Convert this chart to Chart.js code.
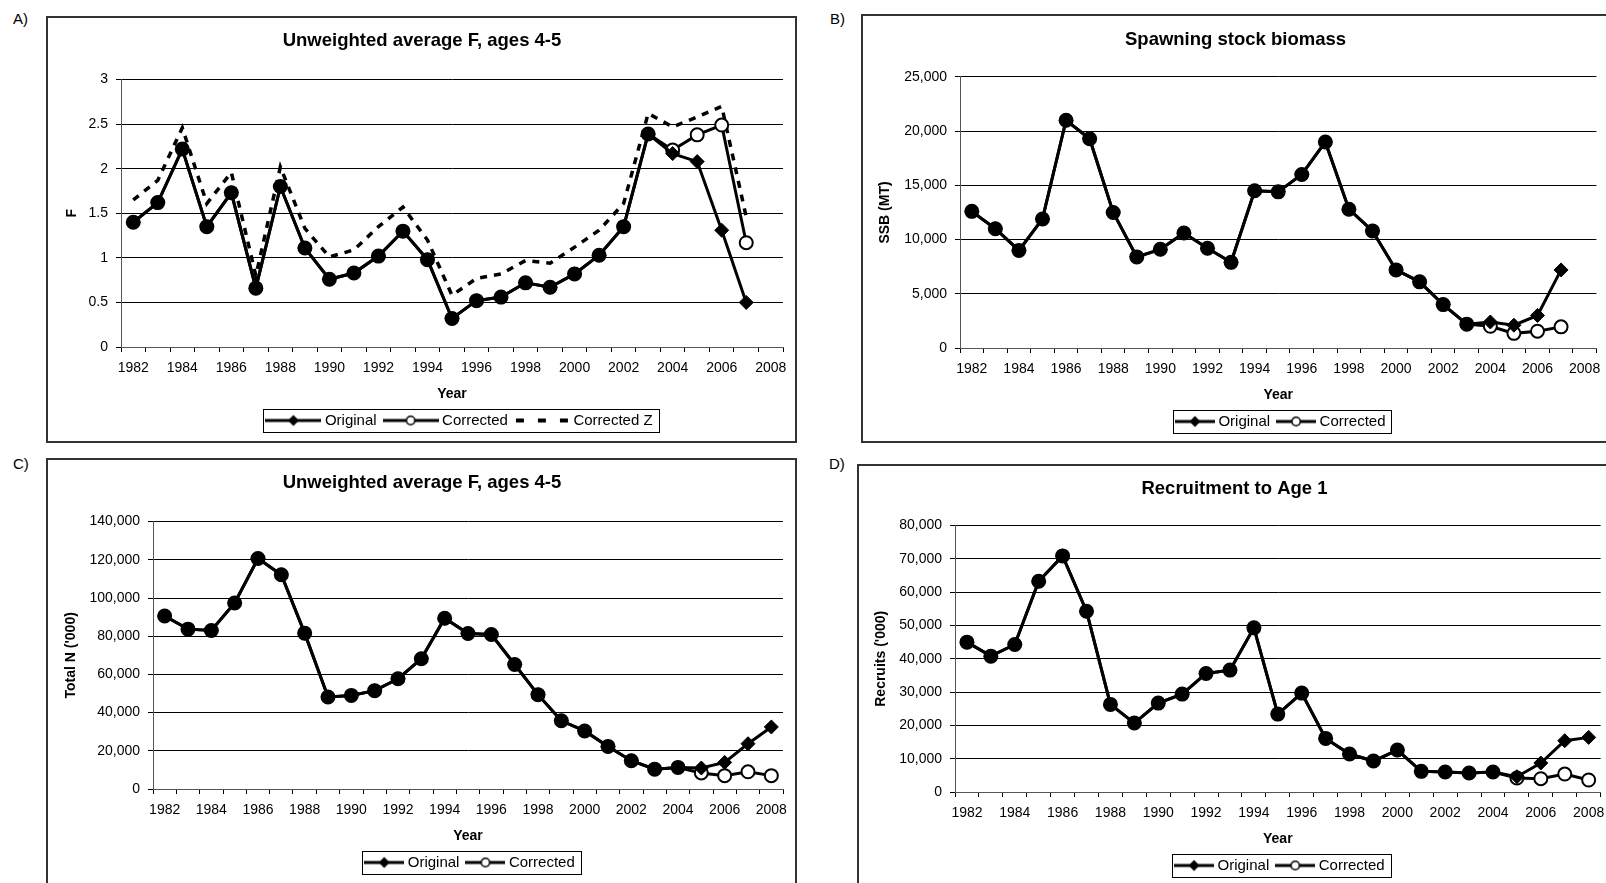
<!DOCTYPE html>
<html><head><meta charset="utf-8">
<script src="https://cdn.jsdelivr.net/npm/chart.js@4.4.0/dist/chart.umd.min.js"></script>
<style>
html,body{margin:0;padding:0;background:#fff;width:1606px;height:883px;overflow:hidden;position:relative;font-family:'Liberation Sans',Arial,sans-serif;}
.box{position:absolute;border:2px solid #333;box-sizing:border-box;}
.lab{position:absolute;font-size:15px;line-height:17px;color:#000;}
canvas{position:absolute;}
</style></head><body>
<div class="box" style="left:46px;top:16px;width:751px;height:427px"></div>
<div class="box" style="left:861px;top:14px;width:800px;height:429px"></div>
<div class="box" style="left:46px;top:458px;width:751px;height:500px"></div>
<div class="box" style="left:857px;top:464px;width:800px;height:500px"></div>
<div class="lab" style="left:13px;top:10px">A)</div>
<div class="lab" style="left:830px;top:10px">B)</div>
<div class="lab" style="left:13px;top:455px">C)</div>
<div class="lab" style="left:829px;top:455px">D)</div>
<canvas id="cA" width="749" height="425" style="left:47px;top:17px"></canvas>
<canvas id="cB" width="746" height="427" style="left:862px;top:15px"></canvas>
<canvas id="cC" width="749" height="424" style="left:47px;top:459px"></canvas>
<canvas id="cD" width="754" height="418" style="left:858px;top:465px"></canvas>
<script>
const years = ['1982','1983','1984','1985','1986','1987','1988','1989','1990','1991','1992','1993','1994','1995','1996','1997','1998','1999','2000','2001','2002','2003','2004','2005','2006','2007','2008'];

// A) Unweighted average F, ages 4-5
const fOriginal   = [1.40,1.62,2.22,1.35,1.73,0.66,1.80,1.11,0.76,0.83,1.02,1.30,0.98,0.32,0.52,0.56,0.72,0.67,0.82,1.03,1.35,2.39,2.17,2.08,1.31,0.50,null];
const fCorrected  = [1.40,1.62,2.22,1.35,1.73,0.66,1.80,1.11,0.76,0.83,1.02,1.30,0.98,0.32,0.52,0.56,0.72,0.67,0.82,1.03,1.35,2.39,2.21,2.38,2.49,1.17,null];
const fCorrectedZ = [1.65,1.87,2.46,1.61,1.96,0.80,2.02,1.33,1.01,1.09,1.35,1.57,1.20,0.58,0.77,0.82,0.97,0.94,1.12,1.31,1.61,2.62,2.47,2.58,2.70,1.46,null];
const fTicks = [0,0.5,1,1.5,2,2.5,3];

// B) Spawning stock biomass
const ssbOriginal  = [12600,11000,9000,11900,21000,19300,12500,8400,9100,10600,9200,7900,14500,14400,16000,19000,12800,10800,7200,6100,4000,2200,2400,2100,3000,7200,null];
const ssbCorrected = [12600,11000,9000,11900,21000,19300,12500,8400,9100,10600,9200,7900,14500,14400,16000,19000,12800,10800,7200,6100,4000,2200,2000,1350,1550,1950,null];
const ssbTicks = [0,5000,10000,15000,20000,25000];

// C) Total N
const nOriginal  = [90600,83700,83000,97400,120700,112200,81600,48200,49000,51500,57700,68200,89400,81400,80900,65200,49400,35700,30400,22300,14800,10400,11300,11000,13900,23700,32500];
const nCorrected = [90600,83700,83000,97400,120700,112200,81600,48200,49000,51500,57700,68200,89400,81400,80900,65200,49400,35700,30400,22300,14800,10400,11300,8400,7000,9000,7000];
const nTicks = [0,20000,40000,60000,80000,100000,120000,140000];

// D) Recruitment to Age 1
const rOriginal  = [45000,40800,44300,63300,70900,54300,26300,20700,26700,29400,35600,36600,49300,23400,29700,16100,11400,9300,12600,6200,6000,5700,6000,4600,8700,15400,16400];
const rCorrected = [45000,40800,44300,63300,70900,54300,26300,20700,26700,29400,35600,36600,49300,23400,29700,16100,11400,9300,12600,6200,6000,5700,6000,4200,4000,5400,3600];
const rTicks = [0,10000,20000,30000,40000,50000,60000,70000,80000];

Chart.defaults.font.family = "'Liberation Sans', Arial, sans-serif";
Chart.defaults.color = '#000';

function makeSample(kind, w){
  const c = document.createElement('canvas');
  c.width = w; c.height = 16;
  const g = c.getContext('2d');
  const m = w / 2;
  g.fillStyle = '#000'; g.strokeStyle = '#000';
  if (kind === 'dash') {
    g.fillRect(2,6,8,4); g.fillRect(m-4,6,8,4); g.fillRect(w-10,6,8,4);
    return c;
  }
  g.lineWidth = 3;
  g.beginPath(); g.moveTo(0,8); g.lineTo(w,8); g.stroke();
  if (kind === 'diamond') {
    g.beginPath(); g.moveTo(m,2.5); g.lineTo(m+5.5,8); g.lineTo(m,13.5); g.lineTo(m-5.5,8); g.closePath(); g.fill();
  } else {
    g.fillStyle = '#fff'; g.lineWidth = 1.5;
    g.beginPath(); g.arc(m,8,4.2,0,Math.PI*2); g.fill(); g.stroke();
  }
  return c;
}

const legendFrame = {
  id: 'legendFrame',
  afterLayout(chart) {
    const lg = chart.legend; const dx = chart.$legendDx || 0;
    if (lg) { lg.left += dx; lg.right += dx; }
  },
  afterDraw(chart) {
    const lg = chart.legend; if (!lg || !lg.legendHitBoxes || !lg.legendHitBoxes.length) return;
    const hb = lg.legendHitBoxes; const first = hb[0], last = hb[hb.length-1];
    const ext = chart.$sampleExt || 4;
    const cy = first.top + first.height/2;
    const x0 = Math.round(first.left - ext - 2) + 0.5, x1 = Math.round(last.left + last.width + 6) + 0.5;
    const y0 = Math.round(cy - 11.5) + 0.5, y1 = Math.round(cy + 11.5) + 0.5;
    const ctx = chart.ctx; ctx.save(); ctx.strokeStyle = '#000'; ctx.lineWidth = 1;
    ctx.strokeRect(x0, y0, x1-x0, y1-y0); ctx.restore();
  }
};

function build(id, o) {
  const orig = o.orig, corr = o.corr;
  const sw = o.sw, psw = sw - 8;
  const samples = { diamond: makeSample('diamond', sw), circle: makeSample('circle', sw), dash: makeSample('dash', sw) };
  const datasets = [
    { label:'Original', data: orig, borderColor:'#000', borderWidth:3, pointStyle:'rectRot', pointRadius:7,
      pointBackgroundColor:'#000', pointBorderColor:'#000', pointBorderWidth:1, tension:0, spanGaps:false, $sample:'diamond' },
    { label:'Corrected', data: corr, borderColor:'#000', borderWidth:3, pointStyle:'circle', pointRadius:6.5,
      pointBackgroundColor: ctx => (corr[ctx.dataIndex] === orig[ctx.dataIndex]) ? '#000' : '#fff',
      pointBorderColor:'#000', pointBorderWidth:2, tension:0, $sample:'circle' }
  ];
  if (o.z) datasets.push({ label:'Corrected Z', data:o.z, borderColor:'#000', borderWidth:3.5, borderDash:[7,7],
      pointRadius:0, tension:0, $sample:'dash' });
  const ticks = o.yTicks;
  const ch = new Chart(document.getElementById(id), {
    type:'line',
    data:{ labels: years, datasets },
    options:{
      responsive:false, animation:false, events:[],
      layout:{ padding:{ left:o.pl, right:o.pr, top:0, bottom:o.pb } },
      plugins:{
        title:{ display:true, text:o.title, color:'#000', font:{size:18.5, weight:'bold'}, padding:{top:o.tpt, bottom:o.tpb} },
        legend:{ display:true, position:'bottom', fullSize:false,
          labels:{ font:{size:15}, color:'#000', padding:10, usePointStyle:true, pointStyleWidth:psw, boxHeight:15,
            generateLabels: chart => chart.data.datasets.map((d,i) => ({ text:d.label, pointStyle:samples[d.$sample],
              fillStyle:'#000', strokeStyle:'#000', lineWidth:0, hidden:false, datasetIndex:i, fontColor:'#000' })) } },
        tooltip:{ enabled:false }
      },
      scales:{
        x:{ type:'category', offset:true,
          grid:{ display:true, drawOnChartArea:false, drawTicks:true, tickLength:5, offset:true, color:'#000', tickColor:'#000' },
          border:{ display:true, color:'#555', width:1 },
          ticks:{ autoSkip:false, maxRotation:0, minRotation:0, padding:7.6, font:{size:14}, color:'#000',
            callback:(v,i) => (i % 2 === 0 ? years[i] : '') },
          title:{ display:true, text:'Year', font:{size:14, weight:'bold'}, color:'#000', padding:{top:0,bottom:0} },
          afterFit: s => { s.height = 56; }
        },
        y:{ min: ticks[0], max: ticks[ticks.length-1],
          afterBuildTicks: s => { s.ticks = ticks.map(v => ({ value:v })); },
          grid:{ color:'#000', lineWidth:1, drawTicks:true, tickLength:5, tickColor:'#000' },
          border:{ display:true, color:'#555', width:1 },
          ticks:{ padding:8, font:{size:14}, color:'#000', callback: v => o.fmt(v) },
          title:{ display:true, text:o.yTitle, font:{size:14, weight:'bold'}, color:'#000', padding:{top:o.ytp, bottom:0} },
          afterFit: s => { s.width = o.yw; }
        }
      }
    },
    plugins:[legendFrame]
  });
  ch.$sampleExt = (sw - psw) / 2;
  return ch;
}
const fmtComma = v => Number(v).toLocaleString('en-US');
const fmtPlain = v => String(v);

function make(id, o){
  const ch = build(id, o);
  ch.$legendDx = o.dx; ch.update('none');
}

make('cA', { title:'Unweighted average F, ages 4-5', yTitle:'F', orig:fOriginal, corr:fCorrected, z:fCorrectedZ, yTicks:fTicks, fmt:fmtPlain,
  pl:14, yw:60, pr:13, pb:4, tpt:13.2, tpb:27.2, ytp:2.6, dx:9, sw:56 });
make('cB', { title:'Spawning stock biomass', yTitle:'SSB (MT)', orig:ssbOriginal, corr:ssbCorrected, yTicks:ssbTicks, fmt:fmtComma,
  pl:12, yw:86, pr:11, pb:3, tpt:14.2, tpb:25.5, ytp:2.6, dx:4, sw:40 });
make('cC', { title:'Unweighted average F, ages 4-5', yTitle:"Total N ('000)", orig:nOriginal, corr:nCorrected, yTicks:nTicks, fmt:fmtComma,
  pl:14, yw:92, pr:13, pb:3, tpt:13.2, tpb:27.2, ytp:1.6, dx:3.5, sw:40 });
make('cD', { title:'Recruitment to Age 1', yTitle:"Recruits ('000)", orig:rOriginal, corr:rCorrected, yTicks:rTicks, fmt:fmtComma,
  pl:8, yw:89, pr:9, pb:0, tpt:13.2, tpb:25.2, ytp:6.6, dx:3.5, sw:40 });
</script>
</body></html>
